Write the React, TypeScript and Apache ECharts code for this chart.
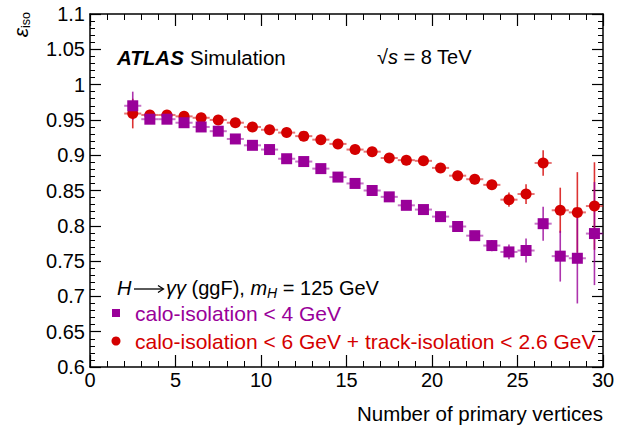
import React, { useEffect, useRef } from "react";
import * as echarts from "echarts";

const nVtx = [2.5, 3.5, 4.5, 5.5, 6.5, 7.5, 8.5, 9.5, 10.5, 11.5, 12.5, 13.5, 14.5, 15.5, 16.5, 17.5, 18.5, 19.5, 20.5, 21.5, 22.5, 23.5, 24.5, 25.5, 26.5, 27.5, 28.5, 29.5];

const caloEff = [0.970, 0.951, 0.951, 0.946, 0.940, 0.934, 0.923, 0.914, 0.908, 0.895, 0.891, 0.881, 0.869, 0.860, 0.850, 0.841, 0.829, 0.823, 0.813, 0.799, 0.786, 0.772, 0.763, 0.765, 0.803, 0.757, 0.754, 0.789];
const caloErr = [0.020, 0.005, 0.004, 0.003, 0.003, 0.003, 0.003, 0.003, 0.003, 0.003, 0.003, 0.003, 0.003, 0.003, 0.003, 0.003, 0.004, 0.004, 0.004, 0.004, 0.005, 0.008, 0.0105, 0.017, 0.024, 0.036, 0.064, 0.073];

const trackEff = [0.959, 0.957, 0.957, 0.955, 0.953, 0.950, 0.946, 0.940, 0.936, 0.932, 0.927, 0.922, 0.916, 0.908, 0.905, 0.896, 0.893, 0.892, 0.882, 0.871, 0.866, 0.858, 0.837, 0.845, 0.889, 0.822, 0.819, 0.828];
const trackErr = [0.021, 0.005, 0.003, 0.003, 0.003, 0.003, 0.003, 0.003, 0.003, 0.003, 0.003, 0.003, 0.003, 0.003, 0.003, 0.003, 0.003, 0.003, 0.004, 0.004, 0.004, 0.005, 0.010, 0.014, 0.018, 0.032, 0.057, 0.062];

const xTitle = "Number of primary vertices";
const legendCalo = "calo-isolation < 4 GeV";
const legendTrack = "calo-isolation < 6 GeV + track-isolation < 2.6 GeV";

const PURPLE = "#990099";
const RED = "#d40000";
const FONT = "'Liberation Sans', Arial, Helvetica, sans-serif";

function errSeries(vals: number[], errs: number[], color: string) {
  return {
    type: "custom",
    xAxisIndex: 0,
    yAxisIndex: 0,
    silent: true,
    data: nVtx.map((x, i) => [x, vals[i], errs[i]]),
    renderItem: (params: any, api: any) => {
      const x = api.value(0);
      const y = api.value(1);
      const e = api.value(2);
      const l = api.coord([x - 0.5, y]);
      const r = api.coord([x + 0.5, y]);
      const t = api.coord([x, y + e]);
      const b = api.coord([x, y - e]);
      return {
        type: "group",
        children: [
          { type: "line", shape: { x1: l[0], y1: l[1], x2: r[0], y2: r[1] }, style: { stroke: color, lineWidth: 2, opacity: 0.55 } },
          { type: "line", shape: { x1: t[0], y1: t[1], x2: b[0], y2: b[1] }, style: { stroke: color, lineWidth: 1.6, opacity: 0.8 } },
        ],
      };
    },
  };
}

function markerSeries(vals: number[], color: string, symbol: string) {
  return {
    type: "scatter",
    xAxisIndex: 0,
    yAxisIndex: 0,
    symbol,
    symbolSize: 11,
    itemStyle: { color, opacity: 1 },
    silent: true,
    data: nVtx.map((x, i) => [x, vals[i]]),
  };
}

const tickCommon = {
  axisLine: { show: true, onZero: false, lineStyle: { color: "#000", width: 1.5 } },
  splitLine: { show: false },
};

export default function App() {
  const ref = useRef<HTMLDivElement>(null);
  useEffect(() => {
    if (!ref.current) return;
    const chart = echarts.init(ref.current, undefined, { renderer: "svg" });
    const fmtY = (v: number) => String(parseFloat(v.toFixed(2)));
    chart.setOption({
      animation: false,
      backgroundColor: "#fff",
      grid: { left: 90, right: 15, top: 14, bottom: 59, containLabel: false },
      xAxis: [
        {
          type: "value", min: 0, max: 30, interval: 5, position: "bottom",
          ...tickCommon,
          axisTick: { show: true, inside: true, length: 12, lineStyle: { color: "#000", width: 1.2 } },
          minorTick: { show: true, splitNumber: 5, length: 6, lineStyle: { color: "#000", width: 1 } },
          axisLabel: { show: true, color: "#000", fontSize: 20, fontFamily: FONT, margin: 3 },
        },
        {
          type: "value", min: 0, max: 30, interval: 5, position: "top",
          ...tickCommon,
          axisTick: { show: true, inside: true, length: 12, lineStyle: { color: "#000", width: 1.2 } },
          minorTick: { show: true, splitNumber: 5, length: 6, lineStyle: { color: "#000", width: 1 } },
          axisLabel: { show: false },
        },
      ],
      yAxis: [
        {
          type: "value", min: 0.6, max: 1.1, interval: 0.05, position: "left",
          ...tickCommon,
          axisTick: { show: true, inside: true, length: 11, lineStyle: { color: "#000", width: 1.2 } },
          minorTick: { show: true, splitNumber: 5, length: 5, lineStyle: { color: "#000", width: 1 } },
          axisLabel: { show: true, color: "#000", fontSize: 20, fontFamily: FONT, margin: 5, formatter: fmtY },
        },
        {
          type: "value", min: 0.6, max: 1.1, interval: 0.05, position: "right",
          ...tickCommon,
          axisTick: { show: true, inside: true, length: 11, lineStyle: { color: "#000", width: 1.2 } },
          minorTick: { show: true, splitNumber: 5, length: 5, lineStyle: { color: "#000", width: 1 } },
          axisLabel: { show: false },
        },
      ],
      series: [
        errSeries(trackEff, trackErr, RED),
        markerSeries(trackEff, RED, "circle"),
        errSeries(caloEff, caloErr, PURPLE),
        markerSeries(caloEff, PURPLE, "rect"),
      ],
      graphic: [
        {
          type: "text", x: 117, y: 57,
          style: { text: "ATLAS", font: `italic bold 20.5px ${FONT}`, fill: "#000", verticalAlign: "middle", align: "left" },
        },
        {
          type: "text", x: 190, y: 57,
          style: { text: "Simulation", font: `20.5px ${FONT}`, fill: "#000", verticalAlign: "middle", align: "left" },
        },
        {
          type: "text", x: 377, y: 57,
          style: {
            text: "{n|√}{i|s}{n| = 8 TeV}",
            verticalAlign: "middle", align: "left",
            rich: {
              n: { fontSize: 20, fontFamily: FONT, fill: "#000", lineHeight: 24 },
              i: { fontSize: 20, fontFamily: FONT, fontStyle: "italic", fill: "#000", lineHeight: 24 },
            },
          },
        },
        {
          type: "text", x: 117, y: 288,
          style: { text: "H", font: `italic 20px ${FONT}`, fill: "#000", verticalAlign: "middle", align: "left" },
        },
        { type: "line", shape: { x1: 134, y1: 289, x2: 163, y2: 289 }, style: { stroke: "#000", lineWidth: 1.3 } },
        { type: "polyline", shape: { points: [[158, 285.5], [163.5, 289], [158, 292.5]] }, style: { stroke: "#000", lineWidth: 1.3, fill: "none" } },
        {
          type: "text", x: 166, y: 288,
          style: {
            text: "{i|γγ}{n| (ggF), }{i|m}{s|H}{n| = 125 GeV}",
            verticalAlign: "middle", align: "left",
            rich: {
              n: { fontSize: 20, fontFamily: FONT, fill: "#000", lineHeight: 24 },
              i: { fontSize: 20, fontFamily: FONT, fontStyle: "italic", fill: "#000", lineHeight: 24 },
              s: { fontSize: 14, fontFamily: FONT, fontStyle: "italic", fill: "#000", lineHeight: 14, verticalAlign: "bottom" },
            },
          },
        },
        { type: "rect", shape: { x: 112, y: 309, width: 8, height: 8 }, style: { fill: PURPLE } },
        {
          type: "text", x: 135, y: 313,
          style: { text: legendCalo, font: `21px ${FONT}`, fill: PURPLE, verticalAlign: "middle", align: "left" },
        },
        { type: "circle", shape: { cx: 116, cy: 341, r: 4.5 }, style: { fill: RED } },
        {
          type: "text", x: 135, y: 341,
          style: { text: legendTrack, font: `21px ${FONT}`, fill: RED, verticalAlign: "middle", align: "left" },
        },
        {
          type: "text", x: 603, y: 413,
          style: { text: xTitle, font: `20.5px ${FONT}`, fill: "#000", verticalAlign: "middle", align: "right" },
        },
        {
          type: "text", x: 20, y: 12, rotation: Math.PI / 2,
          style: {
            text: "{e|ε}{s|iso}",
            align: "right", verticalAlign: "middle",
            rich: {
              e: { fontSize: 21, fontFamily: FONT, fontStyle: "italic", fill: "#000", lineHeight: 24 },
              s: { fontSize: 12.5, fontFamily: FONT, fill: "#000", lineHeight: 14, verticalAlign: "bottom" },
            },
          },
        },
      ],
    });
    return () => chart.dispose();
  }, []);
  return (
    <div
      ref={ref}
      style={{ position: "fixed", left: 0, top: 0, width: 618, height: 426, background: "#fff" }}
    />
  );
}
